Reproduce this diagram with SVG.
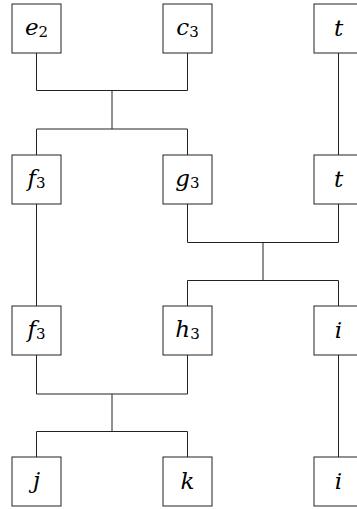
<svg xmlns="http://www.w3.org/2000/svg" width="357" height="509" viewBox="0 0 357 509">
<style>
.box{fill:#fff;stroke:#222;stroke-width:1}
.c{fill:none;stroke:#222;stroke-width:1}
.t{font-family:'DejaVu Serif',serif;font-style:italic;font-size:23px;fill:#000;text-anchor:middle}
.s{font-style:normal;font-size:15px}
</style>
<rect width="357" height="509" fill="#fff"/>
<g id="connectors">
<path class="c" d="M36.5 53V90.5H187.5V53M112 90.5V129M36.5 155V129H187.5V155"/>
<path class="c" d="M338.5 53V155"/>
<path class="c" d="M187.5 204V242.5H338.5V204M263 242.5V280.5M187.5 306V280.5H338.5V306"/>
<path class="c" d="M36.5 204V306"/>
<path class="c" d="M36.5 355V394H187.5V355M112 394V431.5M36.5 457V431.5H187.5V457"/>
<path class="c" d="M338.5 355V457"/>
</g>
<g id="e2"><rect class="box" x="12" y="4" width="49" height="49"/><text class="t" x="36.5" y="35">e<tspan class="s" dy="2">2</tspan></text></g>
<g id="c3"><rect class="box" x="163" y="4" width="49" height="49"/><text class="t" x="187.5" y="35">c<tspan class="s" dy="2">3</tspan></text></g>
<g id="t1"><rect class="box" x="314" y="4" width="49" height="49"/><text class="t" x="338.5" y="36">t</text></g>
<g id="f3a"><rect class="box" x="12" y="155" width="49" height="49"/><text class="t" x="36.5" y="186">f<tspan class="s" dy="2">3</tspan></text></g>
<g id="g3"><rect class="box" x="163" y="155" width="49" height="49"/><text class="t" x="187.5" y="186">g<tspan class="s" dy="2">3</tspan></text></g>
<g id="t2"><rect class="box" x="314" y="155" width="49" height="49"/><text class="t" x="338.5" y="187">t</text></g>
<g id="f3b"><rect class="box" x="12" y="306" width="49" height="49"/><text class="t" x="36.5" y="337">f<tspan class="s" dy="2">3</tspan></text></g>
<g id="h3"><rect class="box" x="163" y="306" width="49" height="49"/><text class="t" x="187.5" y="337">h<tspan class="s" dy="2">3</tspan></text></g>
<g id="i1"><rect class="box" x="314" y="306" width="49" height="49"/><text class="t" x="338.5" y="338">i</text></g>
<g id="j"><rect class="box" x="12" y="457" width="49" height="49"/><text class="t" x="36.5" y="488">j</text></g>
<g id="k"><rect class="box" x="163" y="457" width="49" height="49"/><text class="t" x="187.5" y="489">k</text></g>
<g id="i2"><rect class="box" x="314" y="457" width="49" height="49"/><text class="t" x="338.5" y="489">i</text></g>
</svg>
